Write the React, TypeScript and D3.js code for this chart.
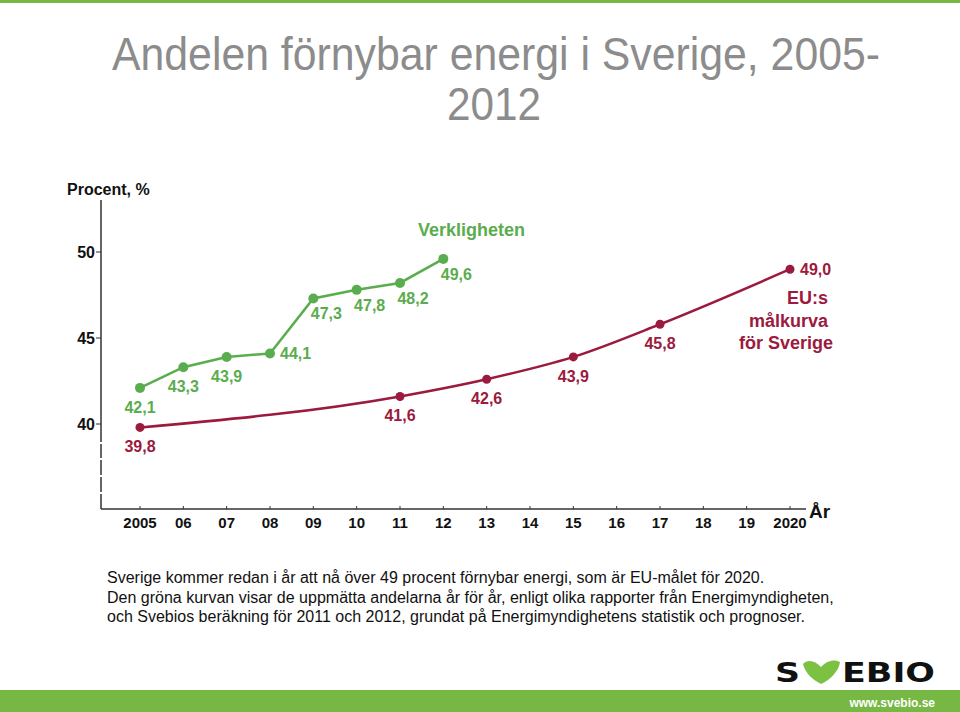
import React from "react";
import * as d3 from "d3";

const greenYears = [2005, 2006, 2007, 2008, 2009, 2010, 2011, 2012];
const greenValues = [42.1, 43.3, 43.9, 44.1, 47.3, 47.8, 48.2, 49.6];
const greenLabels = ["42,1", "43,3", "43,9", "44,1", "47,3", "47,8", "48,2", "49,6"];
const greenPlacement = ["below", "below", "below", "right", "belowRight", "belowRight", "belowRight", "belowRight"];

const redYears = [2005, 2011, 2013, 2015, 2017, 2020];
const redValues = [39.8, 41.6, 42.6, 43.9, 45.8, 49.0];
const redLabels = ["39,8", "41,6", "42,6", "43,9", "45,8", "49,0"];
const redPlacement = ["below", "below", "below", "below", "below", "right"];

const xTickYears = d3.range(2005, 2021);
const xTickLabels = ["2005", "06", "07", "08", "09", "10", "11", "12", "13", "14", "15", "16", "17", "18", "19", "2020"];
const yTicks = [40, 45, 50];

const captionLines = [
  "Sverige kommer redan i år att nå över 49 procent förnybar energi, som är EU-målet för 2020.",
  "Den gröna kurvan visar de uppmätta andelarna år för år, enligt olika rapporter från Energimyndigheten,",
  "och Svebios beräkning för 2011 och 2012, grundat på Energimyndighetens statistik och prognoser.",
];

const GREEN = "#5aad4e";
const RED = "#9b1a3d";
const BRAND = "#76b843";
const FONT = "'Liberation Sans', Arial, sans-serif";
const NARROW = "'Liberation Sans Narrow', 'Arial Narrow', 'Liberation Sans', Arial, sans-serif";

const x = d3.scaleLinear().domain([2005, 2020]).range([140, 790]);
const y = d3.scaleLinear().domain([40, 50]).range([424, 252]);

function labelPos(px: number, py: number, place: string) {
  if (place === "right") return { x: px + 10, y: py + 6, anchor: "start" };
  if (place === "belowRight") return { x: px + 13, y: py + 21, anchor: "middle" };
  return { x: px, y: py + 25, anchor: "middle" };
}

export default function App() {
  const greenLine = d3
    .line<number>()
    .x((_, i) => x(greenYears[i]))
    .y((d) => y(d))
    .curve(d3.curveLinear)(greenValues) as string;
  const redLine = d3
    .line<number>()
    .x((_, i) => x(redYears[i]))
    .y((d) => y(d))
    .curve(d3.curveMonotoneX)(redValues) as string;

  const axisX = 101;
  const axisBottom = 509;

  return (
    <div style={{ position: "absolute", left: 0, top: 0 }}>
      <svg width={960} height={712} viewBox="0 0 960 712" style={{ display: "block", background: "#fff" }}>
        <rect x={0} y={0} width={960} height={3} fill={BRAND} />
        <text x={112} y={70} fontFamily={NARROW} fontSize={46} fill="#8c8c8c" textLength={768} lengthAdjust="spacingAndGlyphs">
          Andelen förnybar energi i Sverige, 2005-
        </text>
        <text x={447} y={120} fontFamily={NARROW} fontSize={46} fill="#8c8c8c" textLength={94} lengthAdjust="spacingAndGlyphs">
          2012
        </text>

        <text x={67} y={195} fontFamily={FONT} fontSize={16} fontWeight="bold" fill="#111">
          Procent, %
        </text>

        {/* axes */}
        <line x1={axisX} y1={200} x2={axisX} y2={axisBottom} stroke="#333" strokeWidth={1.5} />
        {[442, 458, 475, 492].map((gy) => (
          <rect key={gy} x={axisX - 2} y={gy} width={4} height={2} fill="#fff" />
        ))}
        <line x1={axisX} y1={axisBottom} x2={806} y2={axisBottom} stroke="#333" strokeWidth={1.5} />
        {yTicks.map((t) => (
          <g key={t}>
            <line x1={axisX - 5} x2={axisX} y1={y(t)} y2={y(t)} stroke="#333" strokeWidth={1} />
            <text x={95} y={y(t) + 6} textAnchor="end" fontFamily={FONT} fontSize={16} fontWeight="bold" fill="#111">
              {t}
            </text>
          </g>
        ))}
        {xTickYears.map((yr, i) => (
          <g key={yr}>
            <line x1={x(yr)} x2={x(yr)} y1={axisBottom - 3} y2={axisBottom} stroke="#333" strokeWidth={1} />
            <text x={x(yr)} y={528} textAnchor="middle" fontFamily={FONT} fontSize={15} fontWeight="bold" fill="#111">
              {xTickLabels[i]}
            </text>
          </g>
        ))}
        <text x={809} y={518} fontFamily={FONT} fontSize={19} fontWeight="bold" fill="#111">
          År
        </text>

        {/* red target curve */}
        <path d={redLine} fill="none" stroke={RED} strokeWidth={2.5} />
        {redValues.map((v, i) => {
          const px = x(redYears[i]);
          const py = y(v);
          const lp = labelPos(px, py, redPlacement[i]);
          return (
            <g key={"r" + i}>
              <circle cx={px} cy={py} r={4.5} fill={RED} />
              <text x={lp.x} y={lp.y} textAnchor={lp.anchor} fontFamily={FONT} fontSize={16} fontWeight="bold" fill={RED}>
                {redLabels[i]}
              </text>
            </g>
          );
        })}
        <g fontFamily={FONT} fontSize={18} fontWeight="bold" fill={RED} textAnchor="end">
          <text x={828} y={304}>EU:s</text>
          <text x={828} y={327}>målkurva</text>
          <text x={833} y={349}>för Sverige</text>
        </g>

        {/* green actual curve */}
        <path d={greenLine} fill="none" stroke={GREEN} strokeWidth={2.5} />
        {greenValues.map((v, i) => {
          const px = x(greenYears[i]);
          const py = y(v);
          const lp = labelPos(px, py, greenPlacement[i]);
          return (
            <g key={"g" + i}>
              <circle cx={px} cy={py} r={5} fill={GREEN} />
              <text x={lp.x} y={lp.y} textAnchor={lp.anchor} fontFamily={FONT} fontSize={16} fontWeight="bold" fill={GREEN}>
                {greenLabels[i]}
              </text>
            </g>
          );
        })}
        <text x={418} y={236} fontFamily={FONT} fontSize={18} fontWeight="bold" fill={GREEN}>
          Verkligheten
        </text>

        {/* caption */}
        <g fontFamily={FONT} fontSize={16} fill="#111">
          {captionLines.map((l, i) => (
            <text key={i} x={107} y={583 + i * 19.5}>
              {l}
            </text>
          ))}
        </g>

        {/* logo */}
        <text x={775} y={682} fontFamily="'DejaVu Sans', Arial, sans-serif" fontSize={27} fontWeight="bold" fill="#111" textLength={25} lengthAdjust="spacingAndGlyphs">
          S
        </text>
        <path
          d="M803,664 C807,659 815,660 821,667 C827,660 835,659 840,662 C839,671 830,680 821,684 C813,680 805,673 803,664 Z"
          fill="#7cc142"
        />
        <text x={842} y={682} fontFamily="'DejaVu Sans', Arial, sans-serif" fontSize={27} fontWeight="bold" fill="#111" textLength={93} lengthAdjust="spacingAndGlyphs">
          EBIO
        </text>

        <rect x={0} y={690} width={960} height={22} fill={BRAND} />
        <text x={935} y={707} textAnchor="end" fontFamily={FONT} fontSize={12} fontWeight="bold" fill="#fff">
          www.svebio.se
        </text>
      </svg>
    </div>
  );
}
